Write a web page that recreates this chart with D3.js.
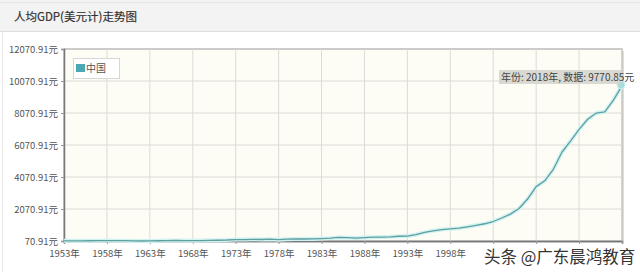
<!DOCTYPE html>
<html>
<head>
<meta charset="utf-8">
<script src="https://cdn.jsdelivr.net/npm/d3@7"></script>
<style>
  body { margin: 0; background: #fff; }
  svg { display: block; font-family: "Noto Sans CJK SC", "Noto Sans", sans-serif; }
</style>
</head>
<body>
<script>
// years 1953 - 2018, GDP per capita (USD)
const years = d3.range(1953, 2019);
const values = [
  80, 82, 84, 86, 90, 95, 92,
  89.52, 75.81, 70.91, 74.31, 85.5, 98.49, 104.32, 96.59, 91.47, 100.13,
  113.16, 118.65, 131.88, 157.09, 160.14, 178.34, 165.41, 185.42, 156.4, 183.98,
  194.8, 197.07, 203.33, 225.43, 250.71, 294.46, 281.93, 251.81, 283.54, 310.88,
  317.88, 333.14, 366.46, 377.39, 473.49, 609.66, 709.41, 781.74, 828.58, 873.29,
  959.37, 1053.11, 1148.51, 1288.64, 1508.67, 1753.42, 2099.23, 2693.97, 3468.33, 3832.24,
  4550.45, 5618.13, 6316.92, 7050.65, 7678.6, 8066.94, 8147.94, 8879.44, 9770.85
];
const xTicks = d3.range(1953, 2019, 5);
const yTicks = [70.91, 2070.91, 4070.91, 6070.91, 8070.91, 10070.91, 12070.91];
const seriesName = "中国";
const title = "人均GDP(美元计)走势图";
const watermark = "头条 @广东晨鸿教育";

const W = 640, H = 272;
const svg = d3.select("body").append("svg").attr("width", W).attr("height", H);

// title bar
svg.append("rect").attr("x", 0).attr("y", 0).attr("width", W).attr("height", 31).attr("fill", "#f3f3f3");
svg.append("line").attr("x1", 0).attr("x2", W).attr("y1", 31.5).attr("y2", 31.5).attr("stroke", "#dedede");
svg.append("line").attr("x1", 0).attr("x2", W).attr("y1", 2.5).attr("y2", 2.5).attr("stroke", "#e6e6e6");
svg.append("line").attr("x1", 2.5).attr("x2", 2.5).attr("y1", 32).attr("y2", H).attr("stroke", "#e6e6e6");
svg.append("text").attr("x", 14).attr("y", 21).attr("font-size", 11.5).attr("fill", "#333")
  .attr("stroke", "#333").attr("stroke-width", 0.2).text(title);

const x = d3.scaleLinear().domain([1953, 2018]).range([64, 622]);
const y = d3.scaleLinear().domain([70.91, 12070.91]).range([241, 49]);

// plot background + shadow
svg.append("rect").attr("x", 66).attr("y", 51).attr("width", 558).attr("height", 192).attr("fill", "#ddd");
svg.append("rect").attr("x", 64).attr("y", 49).attr("width", 558).attr("height", 192)
  .attr("fill", "#fdfdf6").attr("stroke", "#999").attr("stroke-width", 1);

// grid
svg.append("g").selectAll("line").data(xTicks.slice(1)).join("line")
  .attr("x1", d => x(d)).attr("x2", d => x(d)).attr("y1", 49).attr("y2", 241)
  .attr("stroke", "#dcdcd6");
svg.append("g").selectAll("line").data(yTicks.slice(1, -1)).join("line")
  .attr("y1", d => y(d)).attr("y2", d => y(d)).attr("x1", 64).attr("x2", 622)
  .attr("stroke", "#dcdcd6");

// axes (labels from 2003 on are hidden under the watermark in the reference)
const yAxis = svg.append("g").attr("transform", "translate(64,0)")
  .call(d3.axisLeft(y).tickValues(yTicks).tickSize(3).tickPadding(3).tickFormat(d => d3.format(".2f")(d) + "元"));
const xAxis = svg.append("g").attr("transform", "translate(0,241)")
  .call(d3.axisBottom(x).tickValues(xTicks).tickSize(3).tickPadding(6).tickFormat(d => d < 2003 ? d + "年" : ""));
[xAxis, yAxis].forEach(a => {
  a.select(".domain").attr("stroke", "#777").attr("stroke-width", 1.5);
  a.selectAll(".tick line").attr("stroke", "#999");
  a.selectAll(".tick text").attr("fill", "#555").attr("font-size", 9.5)
    .attr("font-family", "\"Noto Sans CJK SC\", sans-serif");
});

// line
const data = years.map((yr, i) => ({ yr, v: values[i] }));
const line = d3.line().x(d => x(d.yr)).y(d => y(d.v));
svg.append("path").datum(data).attr("d", line).attr("fill", "none")
  .attr("stroke", "#d2f2f2").attr("stroke-width", 4).attr("stroke-linejoin", "round");
svg.append("path").datum(data).attr("d", line).attr("fill", "none")
  .attr("stroke", "#5e9fa0").attr("stroke-width", 1.3).attr("stroke-linejoin", "round");

// legend
const lg = svg.append("g");
lg.append("rect").attr("x", 73.5).attr("y", 58.5).attr("width", 46).attr("height", 20)
  .attr("fill", "#fff").attr("stroke", "#d6d6d6");
lg.append("rect").attr("x", 76).attr("y", 64).attr("width", 9).attr("height", 8).attr("fill", "#4ba8b4");
lg.append("text").attr("x", 86).attr("y", 72).attr("font-size", 10).attr("fill", "#555").text(seriesName);

// tooltip on last point
const last = data[data.length - 1];
svg.append("circle").attr("cx", x(last.yr) - 1).attr("cy", y(last.v) - 1).attr("r", 4)
  .attr("fill", "#a9dcdc").attr("stroke", "#cdeeee");
svg.append("rect").attr("x", 499).attr("y", 70).attr("width", 122).attr("height", 14)
  .attr("fill", "#d4d4cc").attr("opacity", 0.85);
svg.append("text").attr("x", 501).attr("y", 81).attr("font-size", 10).attr("fill", "#444")
  .text("年份: " + last.yr + "年, 数据: " + last.v.toFixed(2) + "元");

// watermark
svg.append("text").attr("x", 484).attr("y", 263).attr("font-size", 16.5).attr("fill", "#333")
  .attr("stroke", "#fff").attr("stroke-width", 3).attr("paint-order", "stroke")
  .text(watermark);
</script>
</body>
</html>
